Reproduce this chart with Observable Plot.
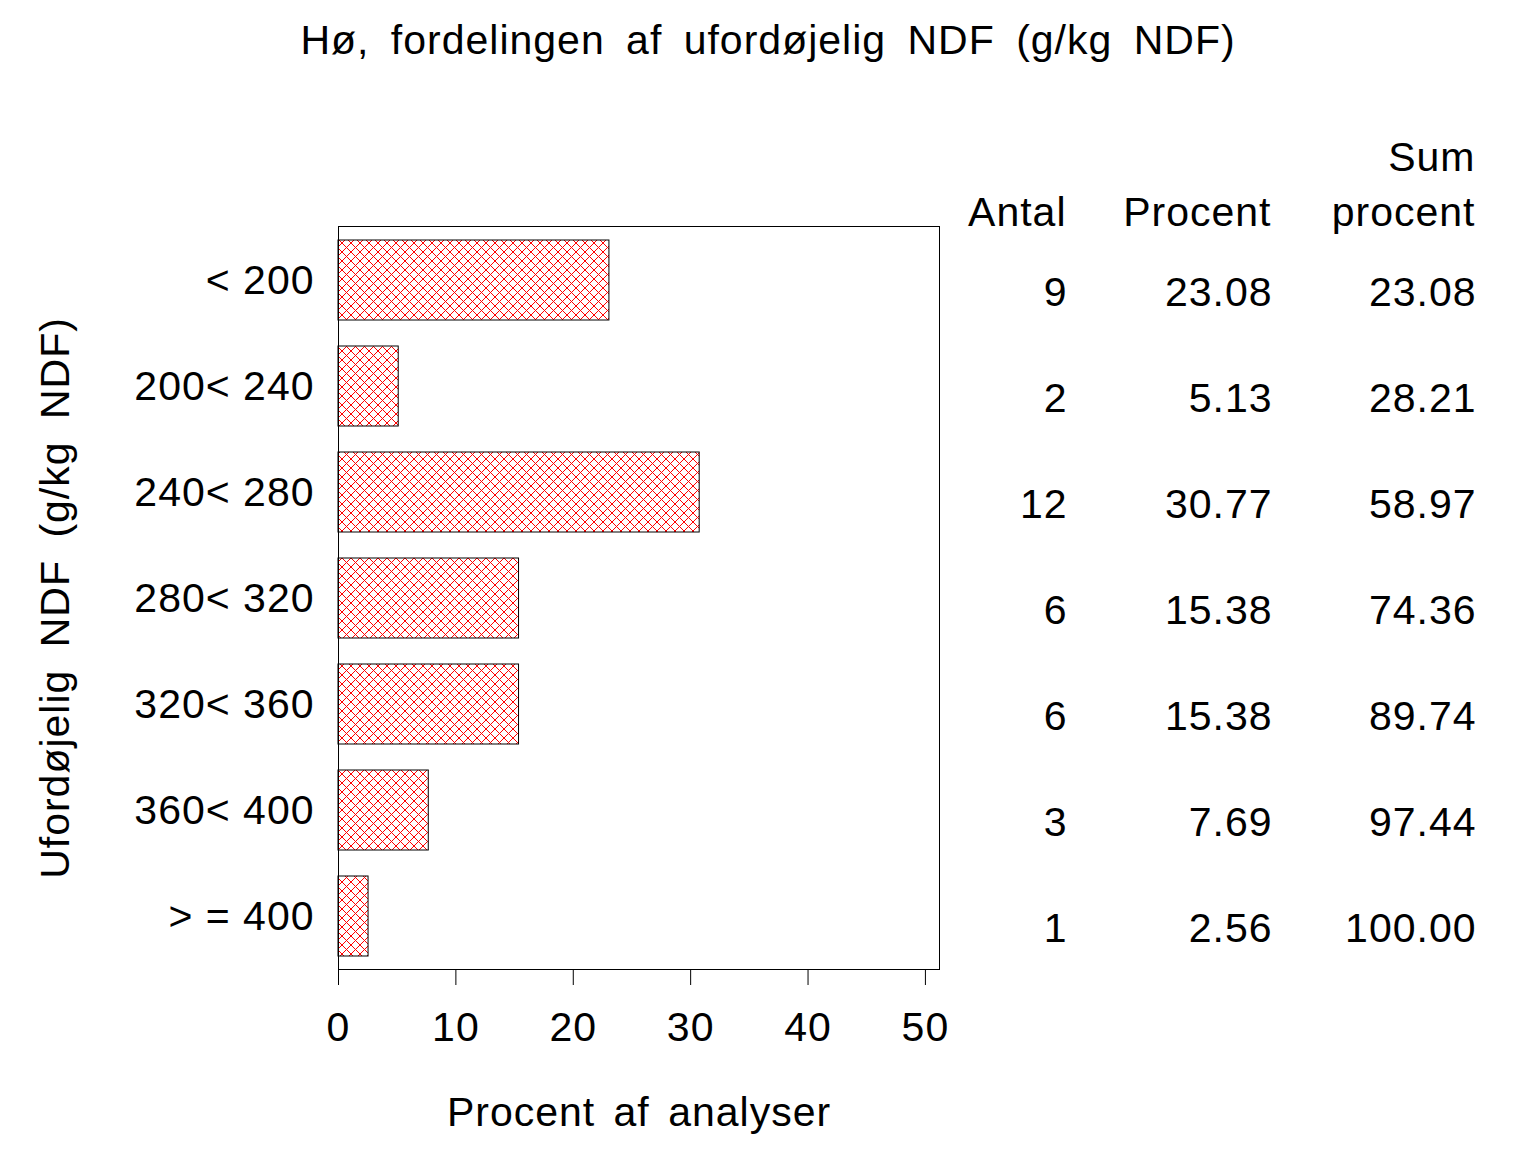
<!DOCTYPE html>
<html><head><meta charset="utf-8">
<script src="https://cdn.jsdelivr.net/npm/d3@7"></script>
<script src="https://cdn.jsdelivr.net/npm/@observablehq/plot@0.6"></script>
<style>
body{margin:0;background:#fff;font-family:"Liberation Sans",Arial,sans-serif;}
#title{height:90px;width:1536px;text-align:center;font-size:41px;line-height:80px;word-spacing:9px;letter-spacing:1px;color:#000;}
svg text{letter-spacing:1px;}
</style></head><body>
<div id="title">Hø, fordelingen af ufordøjelig NDF (g/kg NDF)</div>
<div id="chart"></div>
<script>
const categories = ["< 200","200< 240","240< 280","280< 320","320< 360","360< 400","> = 400"];
const antal = [9,2,12,6,6,3,1];
const procent = [23.08,5.13,30.77,15.38,15.38,7.69,2.56];
const sumProcent = [23.08,28.21,58.97,74.36,89.74,97.44,100.00];
const xTicks = [0,10,20,30,40,50];
const headers = {antal:"Antal", procent:"Procent", sum1:"Sum", sum2:"procent"};
const yLabel = "Ufordøjelig NDF (g/kg NDF)";
const xLabel = "Procent af analyser";

const data = categories.map((c,i)=>({cat:c, antal:antal[i], procent:procent[i], sum:sumProcent[i]}));

const plot = Plot.plot({
  width:1536, height:1062,
  marginLeft:338, marginRight:597, marginTop:136, marginBottom:183,
  style:{fontFamily:"Liberation Sans, Arial, sans-serif", fontSize:"41px", color:"#000", background:"#fff", overflow:"visible"},
  x:{domain:[0,51.2], ticks:xTicks, label:null},
  y:{domain:categories, paddingInner:0.25, paddingOuter:0.125, label:null},
  marks:[
    Plot.barX(data, {x:"procent", y:"cat", fill:"url(#hatch)", stroke:"black", strokeWidth:1}),
    Plot.frame({stroke:"black", strokeWidth:1}),
    Plot.axisX({ticks:xTicks, tickSize:16, tickPadding:26, label:null, fontSize:41}),
    Plot.axisY({tickSize:0, tickPadding:24, label:null, fontSize:41}),
    Plot.text(data, {y:"cat", text:d=>String(d.antal), frameAnchor:"right", dx:128, dy:12, textAnchor:"end"}),
    Plot.text(data, {y:"cat", text:d=>d.procent.toFixed(2), frameAnchor:"right", dx:333, dy:12, textAnchor:"end"}),
    Plot.text(data, {y:"cat", text:d=>d.sum.toFixed(2), frameAnchor:"right", dx:537, dy:12, textAnchor:"end"}),
    Plot.text([headers.antal], {text:d=>d, frameAnchor:"top-right", dx:127, dy:-14, textAnchor:"end", lineAnchor:"middle"}),
    Plot.text([headers.procent], {text:d=>d, frameAnchor:"top-right", dx:332, dy:-14, textAnchor:"end", lineAnchor:"middle"}),
    Plot.text([headers.sum2], {text:d=>d, frameAnchor:"top-right", dx:536, dy:-14, textAnchor:"end", lineAnchor:"middle"}),
    Plot.text([headers.sum1], {text:d=>d, frameAnchor:"top-right", dx:536, dy:-69, textAnchor:"end", lineAnchor:"middle"}),
    Plot.text([yLabel], {text:d=>d, frameAnchor:"left", dx:-283, rotate:-90, textAnchor:"middle", lineAnchor:"middle", className:"ylab"}),
    Plot.text([xLabel], {text:d=>d, frameAnchor:"bottom", dy:143, lineAnchor:"middle", className:"xlab"})
  ]
});

d3.select(plot).insert("defs", ":first-child").html(
  '<pattern id="hatch" patternUnits="userSpaceOnUse" width="9" height="9">' +
  '<rect width="9" height="9" fill="#fff"/>' +
  '<path d="M0,0L9,9M0,9L9,0M-1,1L1,-1M8,10L10,8M-1,8L1,10M8,-1L10,1" stroke="#ff0000" stroke-width="1" fill="none"/>' +
  '</pattern>'
);
d3.select(plot).selectAll("text").attr("fill","#000");
d3.select(plot).selectAll(".ylab text").style("word-spacing","10px");
d3.select(plot).selectAll(".xlab text").style("word-spacing","6px");
document.getElementById("chart").appendChild(plot);
</script>
</body></html>
